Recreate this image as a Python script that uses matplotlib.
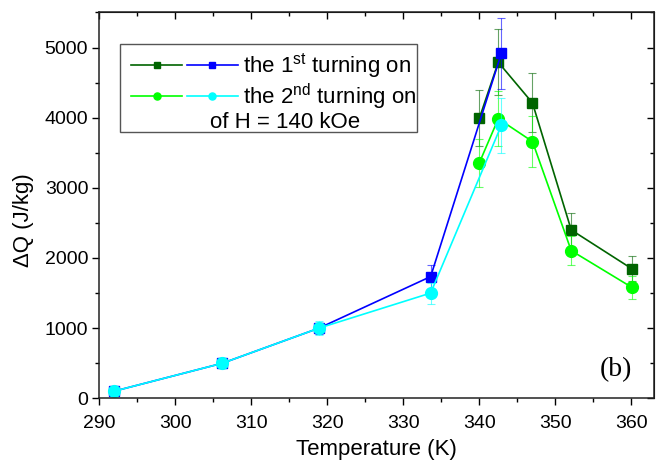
import matplotlib
matplotlib.use("Agg")
import matplotlib.pyplot as plt
from matplotlib.legend_handler import HandlerTuple
from matplotlib.patches import Rectangle
from matplotlib.ticker import MultipleLocator

plt.rcParams['font.family'] = ['Liberation Sans', 'DejaVu Sans']
plt.rcParams['mathtext.fontset'] = 'custom'
plt.rcParams['mathtext.rm'] = 'Liberation Sans'

# 1st turning on (high-T part: dark green, low-T part: blue)
t_dg = [340.0, 342.5, 347.0, 352.1, 360.1]
q_dg = [3990, 4790, 4210, 2400, 1845]
e_dg = [400, 470, 420, 240, 180]

t_blue = [291.9, 306.2, 318.9, 333.6, 342.9]
q_blue = [100, 500, 1000, 1735, 4915]
e_blue = [0, 0, 80, 170, 500]

# 2nd turning on (high-T part: green, low-T part: cyan)
t_gr = [340.0, 342.5, 347.0, 352.1, 360.1]
q_gr = [3355, 3985, 3660, 2105, 1580]
e_gr = [340, 390, 365, 210, 160]

t_cy = [291.9, 306.2, 318.9, 333.6, 342.9]
q_cy = [100, 500, 1000, 1500, 3890]
e_cy = [0, 0, 100, 150, 390]

fig = plt.figure(figsize=(6.6, 4.61), dpi=100)
ax = fig.add_axes([0.1505, 0.136, 0.8405, 0.837])

def series(x, y, e, c, mk, ms):
    ax.errorbar(x, y, yerr=e, fmt='none', ecolor=c, elinewidth=0.8,
                capsize=3, capthick=0.8, alpha=0.6)
    ln, = ax.plot(x, y, '-', color=c, lw=1.2, marker=mk, ms=ms)
    return ln

l_dg = series(t_dg, q_dg, e_dg, '#006400', 's', 7.5)
l_gr = series(t_gr, q_gr, e_gr, '#00ff00', 'o', 8.5)
l_bl = series(t_blue, q_blue, e_blue, '#0000ff', 's', 7.5)
l_cy = series(t_cy, q_cy, e_cy, '#00ffff', 'o', 8.5)

ax.set_xlim(290, 363)
ax.set_ylim(0, 5500)
ax.xaxis.set_major_locator(MultipleLocator(10))
ax.xaxis.set_minor_locator(MultipleLocator(5))
ax.yaxis.set_major_locator(MultipleLocator(1000))
ax.yaxis.set_minor_locator(MultipleLocator(500))
ax.tick_params(which='both', direction='out', labelsize=14, width=1)
ax.tick_params(which='major', length=5)
ax.tick_params(which='minor', length=3)
ax.tick_params(axis='x', which='major', pad=7)
ax.tick_params(axis='y', which='major', pad=3)
for s in ax.spines.values():
    s.set_linewidth(1.1)
    s.set_color('#222222')

top = ax.secondary_xaxis('top')
top.xaxis.set_major_locator(MultipleLocator(10))
top.xaxis.set_minor_locator(MultipleLocator(5))
top.tick_params(which='both', direction='in', labeltop=False, width=1)
top.tick_params(which='major', length=5)
top.tick_params(which='minor', length=3)
right = ax.secondary_yaxis('right')
right.yaxis.set_major_locator(MultipleLocator(1000))
right.yaxis.set_minor_locator(MultipleLocator(500))
right.tick_params(which='both', direction='in', labelright=False, width=1)
right.tick_params(which='major', length=5)
right.tick_params(which='minor', length=3)

ax.set_xlabel('Temperature (K)', fontsize=16, labelpad=5)
ax.set_ylabel('ΔQ (J/kg)', fontsize=16)
ax.yaxis.set_label_coords(-0.118, 0.462)

leg = ax.legend([(l_dg, l_bl), (l_gr, l_cy)],
                ['the 1$^{\\rm st}$ turning on', 'the 2$^{\\rm nd}$ turning on'],
                handler_map={tuple: HandlerTuple(ndivide=None, pad=0.23)},
                loc='upper left', bbox_to_anchor=(0.0373, 0.928),
                borderaxespad=0, borderpad=0.5, frameon=False, fontsize=16,
                handlelength=4.8, handletextpad=0.25, labelspacing=0.07,
                markerscale=0.6)
ax.text(0.1996, 0.7154, 'of H = 140 kOe', transform=ax.transAxes,
        fontsize=16, va='center', ha='left')
ax.add_patch(Rectangle((0.0373, 0.6895), 0.5347, 0.2281, transform=ax.transAxes,
                       fill=False, edgecolor='#555555', lw=1, zorder=5))

ax.text(0.931, 0.074, '(b)', transform=ax.transAxes, fontsize=20,
        family='Liberation Serif', ha='center', va='center')

fig.savefig('out.png', dpi=100)
